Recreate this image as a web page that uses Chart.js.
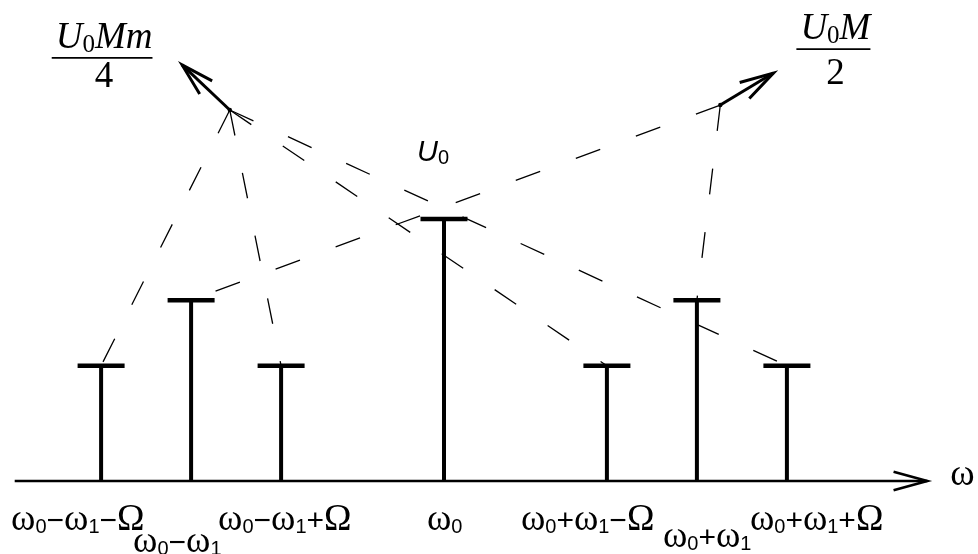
<!DOCTYPE html>
<html>
<head>
<meta charset="utf-8">
<script src="https://cdn.jsdelivr.net/npm/chart.js@4.4.1/dist/chart.umd.min.js"></script>
<style>
  html, body { margin: 0; padding: 0; background: #fff; }
  #wrap { width: 978px; height: 554px; }
</style>
</head>
<body>
<div id="wrap"><canvas id="spectrum" width="978" height="554"></canvas></div>
<script>
// spectral lines: offset from ω0 in units of Ω, amplitude in units of U0
const freqLabels = ['ω_0−ω_1−Ω', 'ω_0−ω_1', 'ω_0−ω_1+Ω', 'ω_0', 'ω_0+ω_1−Ω', 'ω_0+ω_1', 'ω_0+ω_1+Ω'];
const freqs = [-3.81, -2.81, -1.81, 0, 1.81, 2.81, 3.81];
const amplitudes = [0.44, 0.69, 0.44, 1, 0.44, 0.69, 0.44];

// where the dashed guides meet, and where the pointer arrows end
const sideApex = { x: -2.38, y: 1.416 };
const sideTip = { x: -2.91, y: 1.588 };
const mainApex = { x: 3.07, y: 1.435 };
const mainTip = { x: 3.66, y: 1.557 };
const sideLines = [0, 2, 4, 6];   // -> U0Mm/4
const mainLines = [1, 5];         // -> U0M/2

const axisRange = [-4.77, 5.37];

// label layout (px): left edge relative to its line, and text row
const labelDx = [-90, -58, -63, -17, -86, -34, -37];
const labelRow = [0, 1, 0, 0, 0, 2, 0];
const rowBaseline = [530, 552, 547];

const SERIF = '"Liberation Serif", "Times New Roman", serif';
const SANS = '"Liberation Sans", Arial, sans-serif';

const guide = (from, i) => ({
  data: [from, { x: freqs[i], y: amplitudes[i] }],
  borderColor: '#000',
  borderWidth: 1.3,
  borderDash: [26, 38],
  pointRadius: 0,
  showLine: true
});

const datasets = [];

// frequency axis
datasets.push({
  data: [{ x: axisRange[0], y: 0 }, { x: axisRange[1], y: 0 }],
  borderColor: '#000', borderWidth: 2.6, pointRadius: 0, showLine: true
});

sideLines.forEach(i => datasets.push(guide(sideApex, i)));
mainLines.forEach(i => datasets.push(guide(mainApex, i)));

// stems
freqs.forEach((f, i) => datasets.push({
  data: [{ x: f, y: 0 }, { x: f, y: amplitudes[i] }],
  borderColor: '#000', borderWidth: 4, pointRadius: 0, showLine: true
}));

// caps on top of each stem
datasets.push({
  data: freqs.map((f, i) => ({ x: f, y: amplitudes[i] })),
  pointStyle: 'line', pointRadius: 23.5, pointBorderWidth: 4.5,
  pointBorderColor: '#000', showLine: false
});

// pointer shafts
[[sideApex, sideTip], [mainApex, mainTip]].forEach(([a, b]) => datasets.push({
  data: [a, b], borderColor: '#000', borderWidth: 3, pointRadius: 0, showLine: true
}));

function arrowHead(ctx, from, to, len, half) {
  const ang = Math.atan2(to.y - from.y, to.x - from.x);
  ctx.beginPath();
  ctx.moveTo(to.x - len * Math.cos(ang - half), to.y - len * Math.sin(ang - half));
  ctx.lineTo(to.x, to.y);
  ctx.lineTo(to.x - len * Math.cos(ang + half), to.y - len * Math.sin(ang + half));
  ctx.stroke();
}

// draw a run of text pieces: [text, font, baseline shift]
function runWidth(ctx, parts) {
  return parts.reduce((w, p) => { ctx.font = p[1]; return w + ctx.measureText(p[0]).width; }, 0);
}
function drawRun(ctx, parts, x, y) {
  parts.forEach(p => {
    ctx.font = p[1];
    ctx.fillText(p[0], x, y + (p[2] || 0));
    x += ctx.measureText(p[0]).width;
  });
}

function freqParts(label) {
  const parts = [];
  for (let k = 0; k < label.length; k++) {
    const c = label[k];
    if (c === '_') { parts.push([label[++k], '20px ' + SANS, 3]); continue; }
    if (c === '−' || c === '+') parts.push([c, '30px ' + SANS, 0]);
    else parts.push([c, '37px ' + SERIF, 0]);
  }
  return parts;
}

function fraction(ctx, num, den, cx, lineY, gap) {
  const w = runWidth(ctx, num);
  drawRun(ctx, num, cx - w / 2, lineY - 10);
  ctx.lineWidth = 1.8;
  ctx.beginPath();
  ctx.moveTo(cx - w / 2 - 4, lineY);
  ctx.lineTo(cx + w / 2, lineY);
  ctx.stroke();
  ctx.font = '37px ' + SERIF;
  const dw = ctx.measureText(den).width;
  ctx.fillText(den, cx - dw / 2, lineY + gap);
}

const annotations = {
  id: 'annotations',
  afterDatasetsDraw(chart) {
    const { ctx, scales: { x, y } } = chart;
    const px = p => ({ x: x.getPixelForValue(p.x), y: y.getPixelForValue(p.y) });
    ctx.save();
    ctx.fillStyle = '#000';
    ctx.strokeStyle = '#000';
    ctx.lineCap = 'butt';

    // axis arrow and ω
    const a0 = px({ x: axisRange[0], y: 0 });
    const a1 = px({ x: axisRange[1], y: 0 });
    ctx.lineWidth = 2.6;
    arrowHead(ctx, a0, a1, 35, 0.27);
    ctx.font = '37px ' + SERIF;
    ctx.fillText('ω', a1.x + 23, a1.y + 4);

    // pointer heads and junction dots
    ctx.lineWidth = 3;
    arrowHead(ctx, px(sideApex), px(sideTip), 34, 0.27);
    arrowHead(ctx, px(mainApex), px(mainTip), 35, 0.27);
    [sideApex, mainApex].forEach(p => {
      const q = px(p);
      ctx.beginPath();
      ctx.arc(q.x, q.y, 2.2, 0, Math.PI * 2);
      ctx.fill();
    });

    // amplitude labels
    const it = 'italic 37px ' + SERIF;
    const sub = '25px ' + SERIF;
    const st = px(sideTip);
    fraction(ctx, [['U', it], ['0', sub, 4], ['Mm', it]], '4', st.x - 78, st.y - 7, 29);
    const mt = px(mainTip);
    fraction(ctx, [['U', it], ['0', sub, 4], ['M', it]], '2', mt.x + 62, mt.y - 24, 35);

    const c = px({ x: freqs[3], y: amplitudes[3] });
    drawRun(ctx, [['U', 'italic 29px ' + SANS], ['0', '20px ' + SANS, 3]], c.x - 27, c.y - 58);

    // frequency labels under the axis
    freqLabels.forEach((lab, i) => {
      const bx = x.getPixelForValue(freqs[i]);
      drawRun(ctx, freqParts(lab), bx + labelDx[i], rowBaseline[labelRow[i]]);
    });
    ctx.restore();
  }
};

new Chart(document.getElementById('spectrum'), {
  type: 'scatter',
  data: { datasets },
  options: {
    responsive: false,
    animation: false,
    layout: { padding: 0, autoPadding: false },
    plugins: { legend: { display: false }, tooltip: { enabled: false } },
    scales: {
      x: { type: 'linear', display: false, min: -444 / 90, max: 534 / 90 },
      y: { type: 'linear', display: false, min: -73 / 262, max: 481 / 262 }
    }
  },
  plugins: [annotations]
});
</script>
</body>
</html>
